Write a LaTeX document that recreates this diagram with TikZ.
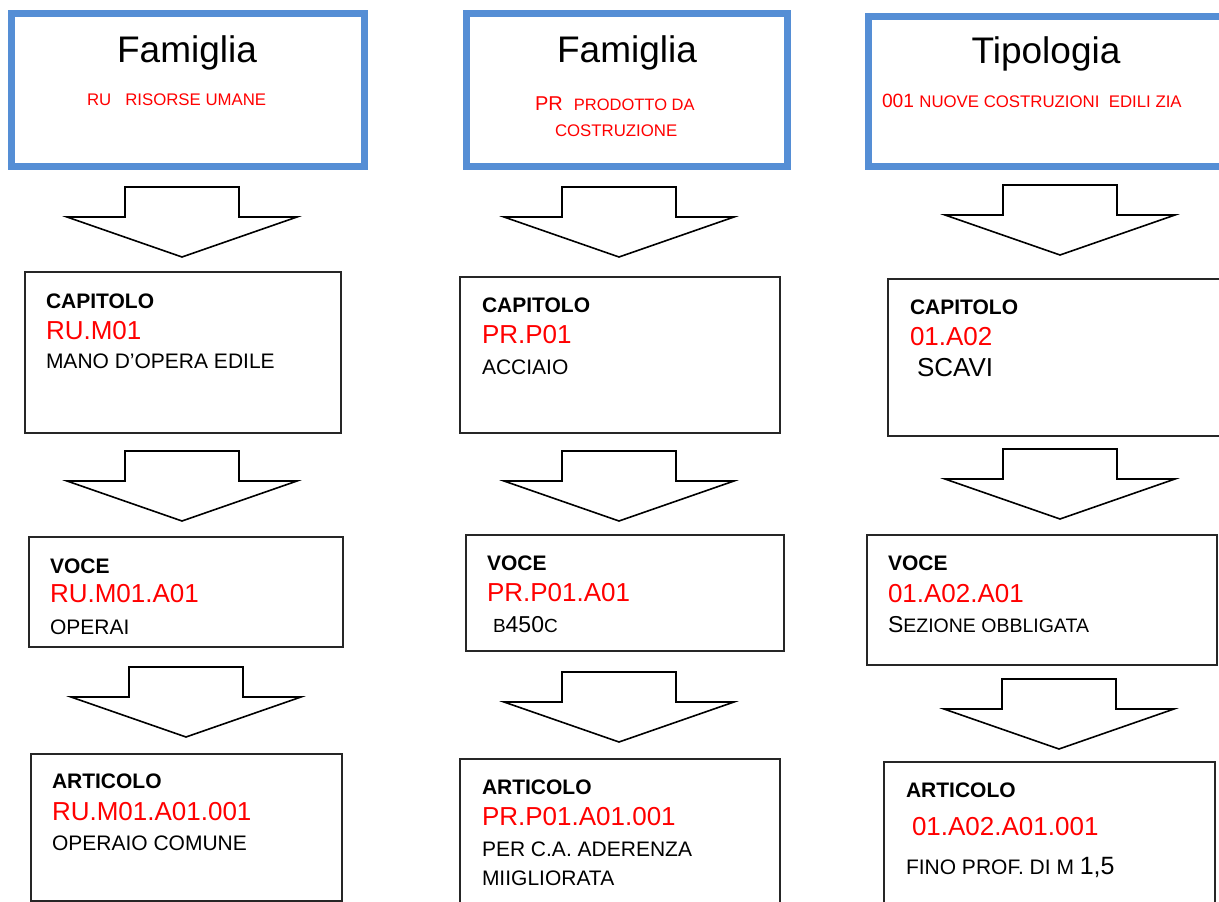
\documentclass[tikz,border=0pt]{standalone}
\usepackage{fontspec}
\setmainfont{Liberation Sans}
\newcommand\fsz[1]{\fontsize{#1}{#1}\selectfont}
\definecolor{frameblue}{RGB}{85,142,213}
\definecolor{codered}{RGB}{255,0,0}
\tikzset{
  x=1pt, y=-1pt,
  famframe/.style={draw=frameblue, line width=6.5pt, rectangle, inner sep=0pt, outer sep=0pt, anchor=north west},
  levelbox/.style={draw=black!85, line width=1.3pt, rectangle, inner sep=0pt, outer sep=0pt, anchor=north west},
  txt/.style={inner sep=0pt, outer sep=0pt, anchor=base west},
  title/.style={inner sep=0pt, outer sep=0pt, anchor=base, font=\fsz{37}},
  lbl/.style={txt, font=\fsz{21}\bfseries},
  code/.style={txt, text=codered, font=\fsz{26}},
  desc/.style={txt, font=\fsz{21}},
  blockarrow/.pic={\draw[line width=1.6pt, fill=white, line join=miter]
    (-57,0) -- (57,0) -- (57,30) -- (115,30) -- (0,70) -- (-115,30) -- (-57,30) -- cycle;}
}
\begin{document}
\begin{tikzpicture}
\useasboundingbox (0,0) rectangle (1219,902);
\clip (0,0) rectangle (1219,902);
\fill[white] (0,0) rectangle (1219,902);

% ---------- Column 1 ----------
\node[famframe, minimum width=353pt, minimum height=153pt] (f1) at (11.5,13.5) {};
\node[title] (f1t) at (187,62) {Famiglia};
\node[txt, text=codered, font=\fsz{16.8}] (f1d) at (87,105) {RU\ \ \ RISORSE UMANE};
\pic at (182,187) {blockarrow};
\node[levelbox, minimum width=316pt, minimum height=161pt] (c1) at (25,272) {};
\node[lbl] (c1l) at (46,308) {CAPITOLO};
\node[code] (c1c) at (46,339) {RU.M01};
\node[desc] (c1d) at (46,368) {MANO D’OPERA EDILE};
\pic at (182,451) {blockarrow};
\node[levelbox, minimum width=314pt, minimum height=110pt] (v1) at (29,537) {};
\node[lbl] (v1l) at (50,573) {VOCE};
\node[code] (v1c) at (50,602) {RU.M01.A01};
\node[desc] (v1d) at (50,634) {OPERAI};
\pic at (186,667) {blockarrow};
\node[levelbox, minimum width=311pt, minimum height=147pt] (a1) at (31,754) {};
\node[lbl] (a1l) at (52,788) {ARTICOLO};
\node[code] (a1c) at (52,820) {RU.M01.A01.001};
\node[desc] (a1d) at (52,850) {OPERAIO COMUNE};

% ---------- Column 2 ----------
\node[famframe, minimum width=321pt, minimum height=153pt] (f2) at (466.5,13.5) {};
\node[title] (f2t) at (627,62) {Famiglia};
\node[txt, text=codered] (f2d) at (535,110) {\fsz{20}PR\ \ \fsz{16.5}PRODOTTO DA};
\node[txt, text=codered, font=\fsz{16.8}] (f2e) at (555,136) {COSTRUZIONE};
\pic at (619,187) {blockarrow};
\node[levelbox, minimum width=320pt, minimum height=156pt] (c2) at (460,277) {};
\node[lbl] (c2l) at (482,312) {CAPITOLO};
\node[code] (c2c) at (482,343) {PR.P01};
\node[desc] (c2d) at (482,374) {ACCIAIO};
\pic at (619,451) {blockarrow};
\node[levelbox, minimum width=318pt, minimum height=116pt] (v2) at (466,535) {};
\node[lbl] (v2l) at (487,570) {VOCE};
\node[code] (v2c) at (487,601) {PR.P01.A01};
\node[txt] (v2d) at (493,632) {\fsz{19}B\fsz{23}450\fsz{19}C};
\pic at (619,672) {blockarrow};
\node[levelbox, minimum width=320pt, minimum height=170pt] (a2) at (460,759) {};
\node[lbl] (a2l) at (482,794) {ARTICOLO};
\node[code] (a2c) at (482,825) {PR.P01.A01.001};
\node[desc] (a2d) at (482,856) {PER C.A. ADERENZA};
\node[desc] (a2e) at (482,885) {MIIGLIORATA};

% ---------- Column 3 ----------
\node[famframe, minimum width=370pt, minimum height=150pt] (f3) at (868.5,16.5) {};
\node[title] (f3t) at (1046,63) {Tipologia};
\node[txt, text=codered] (f3d) at (882,107) {\fsz{19.2}001 \fsz{16.8}NUOVE COSTRUZIONI\ \ EDILI ZIA};
\pic at (1060,185) {blockarrow};
\node[levelbox, minimum width=360pt, minimum height=157pt] (c3) at (888,279) {};
\node[lbl] (c3l) at (910,314) {CAPITOLO};
\node[code] (c3c) at (910,345) {01.A02};
\node[txt, font=\fsz{26}] (c3d) at (917,376) {SCAVI};
\pic at (1060,449) {blockarrow};
\node[levelbox, minimum width=350pt, minimum height=130pt] (v3) at (867,535) {};
\node[lbl] (v3l) at (888,570) {VOCE};
\node[code] (v3c) at (888,602) {01.A02.A01};
\node[txt] (v3d) at (888,632) {\fsz{23}S\fsz{19.5}EZIONE OBBLIGATA};
\pic at (1059,679) {blockarrow};
\node[levelbox, minimum width=331pt, minimum height=170pt] (a3) at (884,762) {};
\node[lbl] (a3l) at (906,797) {ARTICOLO};
\node[code] (a3c) at (912,835) {01.A02.A01.001};
\node[txt] (a3d) at (906,874) {\fsz{21}FINO PROF. DI M \fsz{25}1,5};
\end{tikzpicture}
\end{document}
